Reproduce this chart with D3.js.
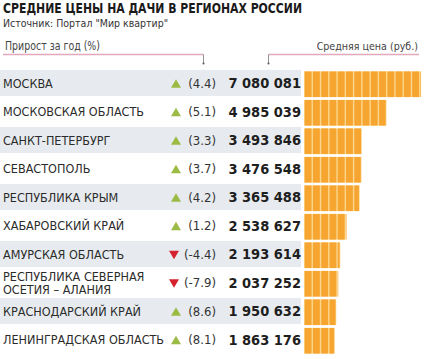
<!DOCTYPE html>
<html><head><meta charset="utf-8">
<script src="https://cdn.jsdelivr.net/npm/d3@7/dist/d3.min.js"></script>
<style>body{margin:0;background:#fff}</style>
</head><body>
<svg id="c" width="425" height="359"></svg>
<script>
const regions = ["МОСКВА","МОСКОВСКАЯ ОБЛАСТЬ","САНКТ-ПЕТЕРБУРГ","СЕВАСТОПОЛЬ","РЕСПУБЛИКА КРЫМ","ХАБАРОВСКИЙ КРАЙ","АМУРСКАЯ ОБЛАСТЬ","РЕСПУБЛИКА СЕВЕРНАЯ\nОСЕТИЯ – АЛАНИЯ","КРАСНОДАРСКИЙ КРАЙ","ЛЕНИНГРАДСКАЯ ОБЛАСТЬ"];
const growth = [4.4,5.1,3.3,3.7,4.2,1.2,-4.4,-7.9,8.6,8.1];
const prices = [7080081,4985039,3493846,3476548,3365488,2538627,2193614,2037252,1950632,1863176];
const segmentSize = 500000;
const titleText = "СРЕДНИЕ ЦЕНЫ НА ДАЧИ В РЕГИОНАХ РОССИИ";
const sourceText = "Источник: Портал \"Мир квартир\"";
const leftHeader = "Прирост за год (%)";
const rightHeader = "Средняя цена (руб.)";

const FONT = "'Liberation Sans Narrow','Arial Narrow','DejaVu Sans Condensed',Roboto,sans-serif";
const svg = d3.select("#c");
const rows = regions.map((r,i)=>({region:r, g:growth[i], p:prices[i], i}));

const y = d3.scaleBand().domain(regions).range([69,354]).paddingInner(0.1).paddingOuter(0.05);
const x = d3.scaleLinear().domain([0,7500000]).range([304,304+124]);
const loc = d3.formatLocale({decimal:".",thousands:" ",grouping:[3],currency:["",""],minus:"-"});
const fmtP = loc.format(",");
const fmtG = loc.format(".1f");

// title
svg.append("text").attr("x",3).attr("y",13).attr("font-family",FONT).attr("font-weight","bold")
  .attr("font-size",14.5).attr("fill","#1a1a1a")
  .attr("textLength",299).attr("lengthAdjust","spacingAndGlyphs").text(titleText);
svg.append("text").attr("x",3).attr("y",27).attr("font-family",FONT)
  .attr("font-size",11).attr("fill","#333")
  .attr("textLength",165).attr("lengthAdjust","spacingAndGlyphs").text(sourceText);

// headers
svg.append("text").attr("x",5).attr("y",50).attr("font-family",FONT)
  .attr("font-size",11.5).attr("fill","#444")
  .attr("textLength",95).attr("lengthAdjust","spacingAndGlyphs").text(leftHeader);
svg.append("text").attr("x",418).attr("y",50).attr("text-anchor","end").attr("font-family",FONT)
  .attr("font-size",10.6).attr("fill","#444").text(rightHeader);
svg.append("line").attr("x1",3).attr("x2",203.5).attr("y1",54.5).attr("y2",54.5).attr("stroke","#e2a9bb").attr("stroke-width",1.3);
svg.append("line").attr("x1",268.5).attr("x2",419).attr("y1",54.5).attr("y2",54.5).attr("stroke","#e2a9bb").attr("stroke-width",1.3);
[203.5,268.5].forEach(px=>{
  svg.append("line").attr("x1",px).attr("x2",px).attr("y1",54.5).attr("y2",63).attr("stroke","#777").attr("stroke-width",0.8);
  svg.append("circle").attr("cx",px).attr("cy",63.5).attr("r",1).attr("fill","#555");
});

// row shading
svg.append("g").selectAll("rect").data(rows.filter(d=>d.i%2===0)).join("rect")
  .attr("x",0).attr("width",301).attr("y",d=>y(d.region)-0.5).attr("height",y.bandwidth()+0.5)
  .attr("fill","#e7ebf0");

// region labels
const lab = svg.append("g").selectAll("text").data(rows).join("text")
  .attr("x",3).attr("font-family",FONT).attr("font-size",12.5).attr("fill","#2b2b2b");
lab.each(function(d){
  const lines = d.region.split("\n");
  const cy = y(d.region)+y.bandwidth()/2;
  const t = d3.select(this);
  lines.forEach((ln,k)=>{
    t.append("tspan").attr("x",3).attr("y",cy+4.5+(k-(lines.length-1)/2)*13.5).text(ln);
  });
});

// triangles
svg.append("g").selectAll("path").data(rows).join("path")
  .attr("transform",d=>`translate(${d.g>=0?176:174},${y(d.region)+y.bandwidth()/2+0.5})`)
  .attr("d",d=>d.g>=0?"M-5,4L5,4L0,-4.5Z":"M-5,-4L5,-4L0,4.5Z")
  .attr("fill",d=>d.g>=0?"#9cbb45":"#d4232e");

// growth values
svg.append("g").selectAll("text").data(rows).join("text")
  .attr("x",216).attr("y",d=>y(d.region)+y.bandwidth()/2+4.5).attr("text-anchor","end")
  .attr("font-family",FONT).attr("font-size",13).attr("fill","#333")
  .text(d=>"("+fmtG(d.g)+")");

// prices
svg.append("g").selectAll("text").data(rows).join("text")
  .attr("x",301).attr("y",d=>y(d.region)+y.bandwidth()/2+5).attr("text-anchor","end")
  .attr("font-family",FONT).attr("font-weight","bold").attr("font-size",14.5).attr("fill","#1e1e1e")
  .text(d=>fmtP(d.p));

// bars (segmented)
const bars = svg.append("g");
bars.selectAll("rect.bg").data(rows).join("rect").attr("class","bg")
  .attr("x",x(0)).attr("width",d=>x(d.p)-x(0)).attr("y",d=>y(d.region)+1).attr("height",y.bandwidth())
  .attr("fill","#fcd68d");
const segs = [];
rows.forEach(d=>{
  const n = Math.ceil(d.p/segmentSize);
  for(let k=0;k<n;k++) segs.push({d, a:k*segmentSize, b:Math.min((k+1)*segmentSize,d.p)});
});
bars.selectAll("rect.s").data(segs).join("rect").attr("class","s")
  .attr("x",s=>x(s.a)+0.7).attr("width",s=>Math.max(0.5,x(s.b)-x(s.a)-1.4))
  .attr("y",s=>y(s.d.region)+1).attr("height",y.bandwidth())
  .attr("fill","#f7a531");
</script>
</body></html>
